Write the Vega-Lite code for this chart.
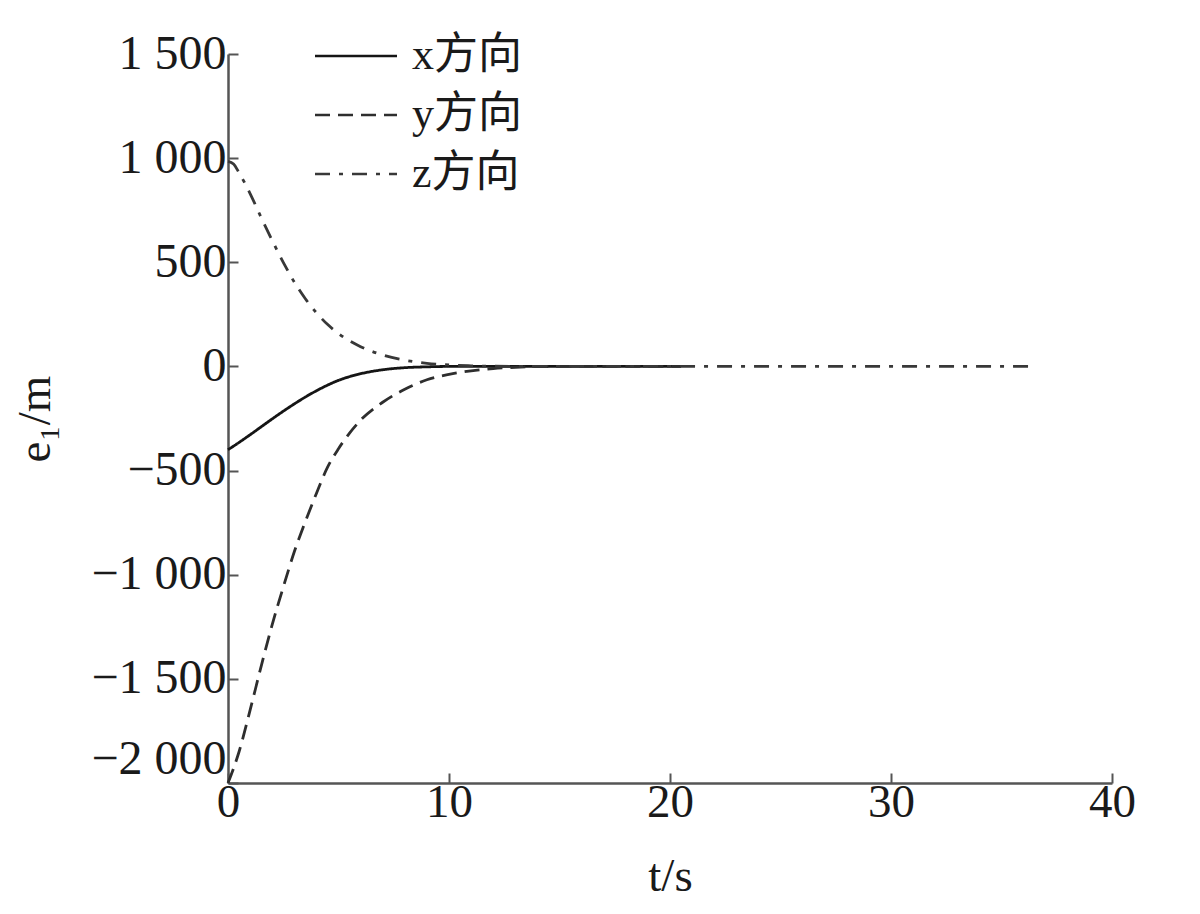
{
  "$schema": "https://vega.github.io/schema/vega-lite/v6.json",
  "width": 884,
  "height": 729,
  "autosize": {"type": "none"},
  "padding": {"left": 228, "top": 54, "right": 88, "bottom": 131},
  "background": "white",
  "config": {"view": {"stroke": null}, "font": "Liberation Serif"},
  "datasets": {
    "rows": [
      {"t": 0, "e": -400, "dir": "x方向"},
      {"t": 0.5, "e": -365, "dir": "x方向"},
      {"t": 1, "e": -328, "dir": "x方向"},
      {"t": 1.5, "e": -290, "dir": "x方向"},
      {"t": 2, "e": -252, "dir": "x方向"},
      {"t": 2.5, "e": -215, "dir": "x方向"},
      {"t": 3, "e": -180, "dir": "x方向"},
      {"t": 3.5, "e": -147, "dir": "x方向"},
      {"t": 4, "e": -117, "dir": "x方向"},
      {"t": 4.5, "e": -90, "dir": "x方向"},
      {"t": 5, "e": -67, "dir": "x方向"},
      {"t": 5.5, "e": -49, "dir": "x方向"},
      {"t": 6, "e": -35, "dir": "x方向"},
      {"t": 7, "e": -16, "dir": "x方向"},
      {"t": 8, "e": -6, "dir": "x方向"},
      {"t": 9, "e": -2, "dir": "x方向"},
      {"t": 10, "e": 0, "dir": "x方向"},
      {"t": 12, "e": 0, "dir": "x方向"},
      {"t": 14, "e": 0, "dir": "x方向"},
      {"t": 16, "e": 0, "dir": "x方向"},
      {"t": 18, "e": 0, "dir": "x方向"},
      {"t": 20.5, "e": 0, "dir": "x方向"},
      {"t": 0, "e": -2000, "dir": "y方向"},
      {"t": 0.25, "e": -1930, "dir": "y方向"},
      {"t": 0.5, "e": -1850, "dir": "y方向"},
      {"t": 1, "e": -1650, "dir": "y方向"},
      {"t": 1.5, "e": -1440, "dir": "y方向"},
      {"t": 2, "e": -1240, "dir": "y方向"},
      {"t": 2.5, "e": -1060, "dir": "y方向"},
      {"t": 3, "e": -890, "dir": "y方向"},
      {"t": 3.5, "e": -745, "dir": "y方向"},
      {"t": 4, "e": -610, "dir": "y方向"},
      {"t": 4.5, "e": -485, "dir": "y方向"},
      {"t": 5, "e": -395, "dir": "y方向"},
      {"t": 5.5, "e": -320, "dir": "y方向"},
      {"t": 6, "e": -258, "dir": "y方向"},
      {"t": 7, "e": -172, "dir": "y方向"},
      {"t": 8, "e": -110, "dir": "y方向"},
      {"t": 9, "e": -64, "dir": "y方向"},
      {"t": 10, "e": -38, "dir": "y方向"},
      {"t": 11, "e": -21, "dir": "y方向"},
      {"t": 12, "e": -10, "dir": "y方向"},
      {"t": 13, "e": -4, "dir": "y方向"},
      {"t": 14, "e": -1, "dir": "y方向"},
      {"t": 15, "e": 0, "dir": "y方向"},
      {"t": 17, "e": 0, "dir": "y方向"},
      {"t": 20.5, "e": 0, "dir": "y方向"},
      {"t": 0, "e": 985, "dir": "z方向"},
      {"t": 0.25, "e": 972, "dir": "z方向"},
      {"t": 0.5, "e": 930, "dir": "z方向"},
      {"t": 1, "e": 830, "dir": "z方向"},
      {"t": 1.5, "e": 715, "dir": "z方向"},
      {"t": 2, "e": 605, "dir": "z方向"},
      {"t": 2.5, "e": 500, "dir": "z方向"},
      {"t": 3, "e": 405, "dir": "z方向"},
      {"t": 3.5, "e": 325, "dir": "z方向"},
      {"t": 4, "e": 258, "dir": "z方向"},
      {"t": 4.5, "e": 202, "dir": "z方向"},
      {"t": 5, "e": 158, "dir": "z方向"},
      {"t": 6, "e": 95, "dir": "z方向"},
      {"t": 7, "e": 55, "dir": "z方向"},
      {"t": 8, "e": 30, "dir": "z方向"},
      {"t": 9, "e": 15, "dir": "z方向"},
      {"t": 10, "e": 7, "dir": "z方向"},
      {"t": 11, "e": 3, "dir": "z方向"},
      {"t": 12, "e": 1, "dir": "z方向"},
      {"t": 13, "e": 0, "dir": "z方向"},
      {"t": 16, "e": 0, "dir": "z方向"},
      {"t": 20, "e": 0, "dir": "z方向"},
      {"t": 25, "e": 0, "dir": "z方向"},
      {"t": 30, "e": 0, "dir": "z方向"},
      {"t": 36.5, "e": 0, "dir": "z方向"}
    ]
  },
  "data": {"name": "rows"},
  "mark": {"type": "line", "strokeWidth": 2.8, "interpolate": "monotone"},
  "encoding": {
    "x": {
      "field": "t",
      "type": "quantitative",
      "scale": {"domain": [0, 40], "nice": false, "zero": false},
      "axis": {
        "values": [0, 10, 20, 30, 40],
        "grid": false,
        "tickSize": -10,
        "tickWidth": 2,
        "tickColor": "#555555",
        "domainColor": "#555555",
        "domainWidth": 2.5,
        "labelFlush": false,
        "labelFont": "Liberation Serif",
        "labelFontSize": 47,
        "labelColor": "#1a1a1a",
        "labelPadding": 6,
        "title": "t/s",
        "titleFont": "Liberation Serif",
        "titleFontSize": 47,
        "titleFontWeight": "normal",
        "titleColor": "#1a1a1a",
        "titlePadding": 28
      }
    },
    "y": {
      "field": "e",
      "type": "quantitative",
      "scale": {"domain": [-2000, 1500], "nice": false},
      "axis": {
        "values": [-2000, -1500, -1000, -500, 0, 500, 1000, 1500],
        "grid": false,
        "tickSize": -10,
        "tickWidth": 2,
        "tickColor": "#555555",
        "domainColor": "#555555",
        "domainWidth": 2.5,
        "labelFont": "Liberation Serif",
        "labelFontSize": 48,
        "labelColor": "#1a1a1a",
        "labelPadding": 12,
        "labelExpr": "replace(format(datum.value, ','), ',', ' ')",
        "labelBaseline": {"condition": {"test": "datum.value == -2000", "value": "bottom"}, "value": "middle"},
        "title": "e₁/m",
        "titleFont": "Liberation Serif",
        "titleFontSize": 47,
        "titleFontWeight": "normal",
        "titleColor": "#1a1a1a",
        "titlePadding": 31
      }
    },
    "color": {
      "field": "dir",
      "type": "nominal",
      "scale": {"domain": ["x方向", "y方向", "z方向"], "range": ["#151515", "#2e2e2e", "#383838"]},
      "legend": {
        "title": null,
        "orient": "none",
        "legendX": 106,
        "legendY": -20,
        "padding": 0,
        "symbolType": "M-2,0H2",
        "symbolSize": 1681,
        "symbolStrokeWidth": 2.5,
        "labelFont": "Liberation Serif, Noto Sans CJK SC",
        "labelFontSize": 44,
        "labelColor": "#1a1a1a",
        "labelOffset": 34,
        "rowPadding": 15
      }
    },
    "strokeDash": {
      "field": "dir",
      "type": "nominal",
      "scale": {"domain": ["x方向", "y方向", "z方向"], "range": [[1, 0], [15, 8], [15, 9, 4, 9]]},
      "legend": {
        "title": null,
        "orient": "none",
        "legendX": 106,
        "legendY": -20,
        "padding": 0,
        "symbolType": "M-2,0H2",
        "symbolSize": 1681,
        "symbolStrokeWidth": 2.5,
        "labelFont": "Liberation Serif, Noto Sans CJK SC",
        "labelFontSize": 44,
        "labelColor": "#1a1a1a",
        "labelOffset": 34,
        "rowPadding": 15
      }
    }
  }
}
